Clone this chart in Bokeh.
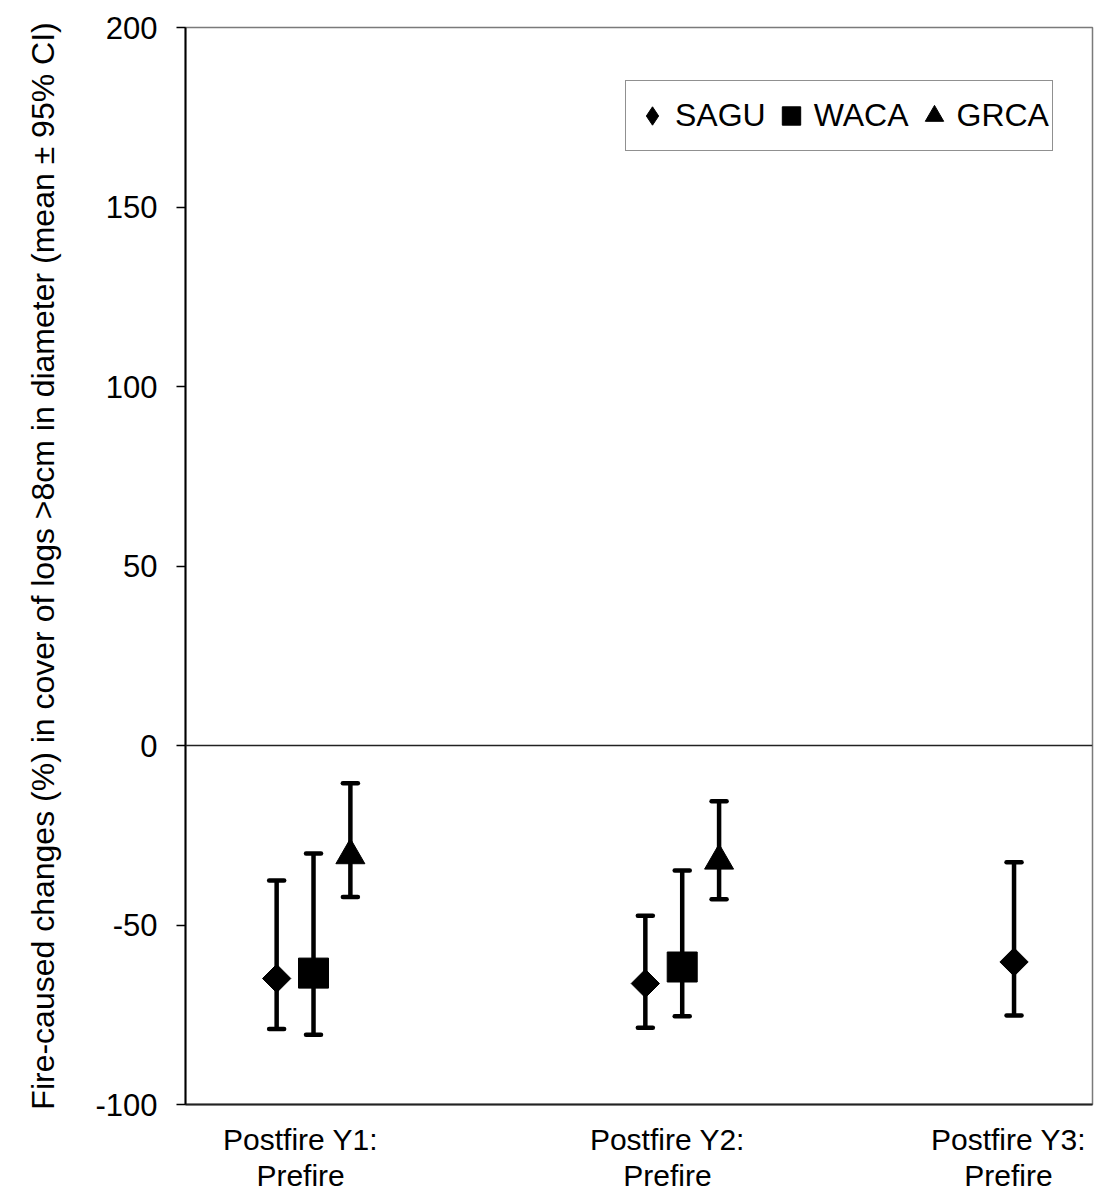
import numpy as np
from bokeh.plotting import figure
from bokeh.models import (ColumnDataSource, Whisker, TeeHead, Span, Legend,
                          LegendItem, FixedTicker, Range1d)
from bokeh.embed import file_html
from bokeh.resources import INLINE

# Comparison periods (x categories) and study sites
periods = ["Postfire Y1:\nPrefire", "Postfire Y2:\nPrefire", "Postfire Y3:\nPrefire"]
sites = ["SAGU", "WACA", "GRCA"]

# Mean change (%) and 95% CI bounds, one value per period measured at each site
sagu_mean = [-64.9, -66.3, -60.3]
sagu_low = [-79.0, -78.6, -75.2]
sagu_high = [-37.6, -47.4, -32.5]

waca_mean = [-63.4, -61.7]
waca_low = [-80.6, -75.4]
waca_high = [-30.1, -34.8]

grca_mean = [-30.6, -32.1]
grca_low = [-42.2, -42.8]
grca_high = [-10.5, -15.5]

y_ticks = [-100, -50, 0, 50, 100, 150, 200]

# layout: one group per period, sites side by side within a group
group_pos = [1, 2, 3]
site_offset = {"SAGU": -0.1, "WACA": 0.0, "GRCA": 0.1}
label_pos = [0.965, 1.96, 2.885]

FONT = "Liberation Sans"

p = figure(width=1094, height=1195, output_backend="svg", toolbar_location=None,
           x_range=Range1d(0.6528, 3.1128), y_range=Range1d(-100, 200),
           min_border_left=185, min_border_right=2, min_border_top=27,
           min_border_bottom=91)
p.background_fill_color = "white"
p.border_fill_color = "white"
p.outline_line_color = "#7a7a7a"
p.outline_line_width = 1.5
p.xgrid.visible = False
p.ygrid.visible = False


def site_source(site, mean, low, high):
    xs = [group_pos[i] + site_offset[site] for i in range(len(mean))]
    return ColumnDataSource(dict(x=xs, mean=mean, lower=low, upper=high))


src_sagu = site_source("SAGU", sagu_mean, sagu_low, sagu_high)
src_waca = site_source("WACA", waca_mean, waca_low, waca_high)
src_grca = site_source("GRCA", grca_mean, grca_low, grca_high)

# zero reference line
p.add_layout(Span(location=0, dimension="width", line_color="#222222", line_width=1.3))

# 95% CI error bars
for src in (src_sagu, src_waca, src_grca):
    p.add_layout(Whisker(source=src, base="x", upper="upper", lower="lower",
                         dimension="height", line_color="black", line_width=4.5,
                         upper_head=TeeHead(size=15, line_width=4.5, line_color="black",
                                            line_cap="round"),
                         lower_head=TeeHead(size=15, line_width=4.5, line_color="black",
                                            line_cap="round"),
                         level="glyph"))

# SAGU means drawn as diamonds (square turned 45 degrees)
r_sagu = p.scatter("x", "mean", source=src_sagu, marker="square", angle=np.pi / 4,
                   size=20, color="black")
# zero-size diamond glyph used only as the SAGU legend key
r_sagu_key = p.scatter("x", "mean", source=src_sagu, marker="diamond", size=0,
                       color="black")
r_waca = p.scatter("x", "mean", source=src_waca, marker="square", size=30, color="black")
r_grca = p.scatter("x", "mean", source=src_grca, marker="triangle", size=29, color="black")

legend = Legend(items=[LegendItem(label=sites[0], renderers=[r_sagu_key]),
                       LegendItem(label=sites[1], renderers=[r_waca]),
                       LegendItem(label=sites[2], renderers=[r_grca])],
                orientation="horizontal", location=(440, 953),
                glyph_width=46, glyph_height=63, label_standoff=0, spacing=2,
                padding=3, margin=0,
                label_text_font=FONT, label_text_font_size="32px",
                label_text_color="black",
                border_line_color="#222222", border_line_width=1.3,
                background_fill_color="white", background_fill_alpha=1.0)
p.add_layout(legend)

# y axis
ya = p.yaxis[0]
ya.ticker = FixedTicker(ticks=y_ticks)
ya.major_label_overrides = {t: str(t) for t in y_ticks}
ya.axis_label = "Fire-caused changes (%) in cover of logs >8cm in diameter (mean \u00b1 95% CI)"
ya.axis_label_text_font = FONT
ya.axis_label_text_font_size = "32px"
ya.axis_label_text_font_style = "normal"
ya.axis_label_text_color = "black"
ya.axis_label_standoff = 31
ya.major_label_text_font = FONT
ya.major_label_text_font_size = "31px"
ya.major_label_text_color = "black"
ya.major_label_standoff = 19
ya.major_tick_out = 9
ya.major_tick_in = 0
ya.major_tick_line_width = 1.5
ya.major_tick_line_color = "black"
ya.minor_tick_out = 0
ya.minor_tick_in = 0
ya.axis_line_width = 2
ya.axis_line_color = "black"

# x axis: period labels
xa = p.xaxis[0]
xa.ticker = FixedTicker(ticks=label_pos)
xa.major_label_overrides = {pos: txt for pos, txt in zip(label_pos, periods)}
xa.major_label_text_font = FONT
xa.major_label_text_font_size = "30px"
xa.major_label_text_color = "black"
xa.major_label_text_line_height = 1.1
xa.major_label_standoff = 18
xa.major_tick_out = 0
xa.major_tick_in = 0
xa.minor_tick_out = 0
xa.minor_tick_in = 0
xa.axis_line_width = 2
xa.axis_line_color = "#222222"

open("out.html", "w").write(file_html(p, INLINE))
